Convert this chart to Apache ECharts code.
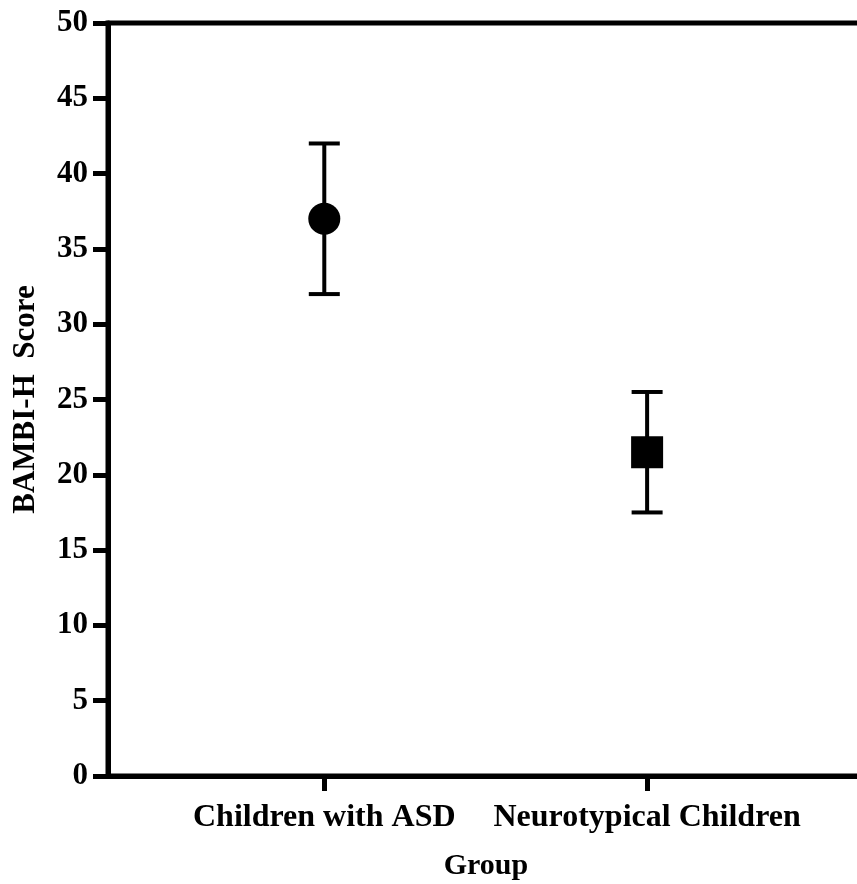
<!DOCTYPE html>
<html>
<head>
<meta charset="utf-8">
<script src="https://cdn.jsdelivr.net/npm/echarts@6/dist/echarts.min.js"></script>
<style>
  html, body { margin: 0; padding: 0; background: #fff; }
  #chart { width: 857px; height: 884px; }
</style>
</head>
<body>
<div id="chart"></div>
<script>
// groups and their mean / error range
var categories = ['Children with ASD', 'Neurotypical Children'];
var groupPos = [1, 2];
var means = [37, 21.5];
var lowers = [32, 17.5];
var uppers = [42, 25.5];
var markers = ['circle', 'rect'];
var yMin = 0, yMax = 50, yStep = 5;

var font = 'Liberation Serif';
var myChart = echarts.init(document.getElementById('chart'));

var errData = [], ptData = [];
for (var i = 0; i < categories.length; i++) {
  errData.push([groupPos[i], lowers[i], uppers[i]]);
  ptData.push({ value: [groupPos[i], means[i]], symbol: markers[i] });
}

function renderErr(params, api) {
  var x = api.value(0);
  var lo = api.coord([x, api.value(1)]);
  var hi = api.coord([x, api.value(2)]);
  var hw = 15.5;
  var st = { stroke: '#000', lineWidth: 4 };
  return {
    type: 'group',
    children: [
      { type: 'line', shape: { x1: lo[0], y1: lo[1], x2: hi[0], y2: hi[1] }, style: st },
      { type: 'line', shape: { x1: lo[0] - hw, y1: lo[1], x2: lo[0] + hw, y2: lo[1] }, style: st },
      { type: 'line', shape: { x1: hi[0] - hw, y1: hi[1], x2: hi[0] + hw, y2: hi[1] }, style: st }
    ]
  };
}

var option = {
  animation: false,
  backgroundColor: '#fff',
  // x axis title sits low, under the labels (axis name would get pushed up)
  title: {
    text: 'Group', left: 486, top: 851, textAlign: 'center', padding: 0,
    textStyle: { fontFamily: font, fontWeight: 'bold', fontSize: 30, color: '#000' }
  },
  // plot box runs past the right edge of the picture (right border is cut off)
  grid: {
    left: 108, top: 23, width: 778, bottom: 108,
    outerBoundsMode: 'none', containLabel: false,
    show: true, borderColor: '#000', borderWidth: 5, backgroundColor: 'transparent'
  },
  xAxis: {
    type: 'value', min: 0.33, max: 2.74,
    splitLine: { show: false },
    axisLine: { lineStyle: { color: '#000', width: 5 } },
    axisTick: { show: true, length: 15, customValues: groupPos, lineStyle: { color: '#000', width: 5 } },
    axisLabel: {
      customValues: groupPos, margin: 26,
      fontFamily: font, fontWeight: 'bold', fontSize: 32, color: '#000',
      formatter: function (v) { return categories[groupPos.indexOf(v)]; }
    }
  },
  yAxis: {
    type: 'value', min: yMin, max: yMax, interval: yStep,
    name: 'BAMBI-H  Score', nameLocation: 'middle', nameGap: 67,
    nameTextStyle: { fontFamily: font, fontWeight: 'bold', fontSize: 31, color: '#000' },
    splitLine: { show: false },
    axisLine: { show: true, lineStyle: { color: '#000', width: 5 } },
    axisTick: { show: true, length: 15, lineStyle: { color: '#000', width: 5 } },
    axisLabel: { margin: 20, fontFamily: font, fontWeight: 'bold', fontSize: 31, color: '#000' }
  },
  series: [
    { type: 'custom', renderItem: renderErr, data: errData, z: 2 },
    { type: 'scatter', data: ptData, symbolSize: 32, itemStyle: { color: '#000', opacity: 1 }, z: 3 }
  ]
};

myChart.setOption(option);
window.onresize = myChart.resize;
</script>
</body>
</html>
